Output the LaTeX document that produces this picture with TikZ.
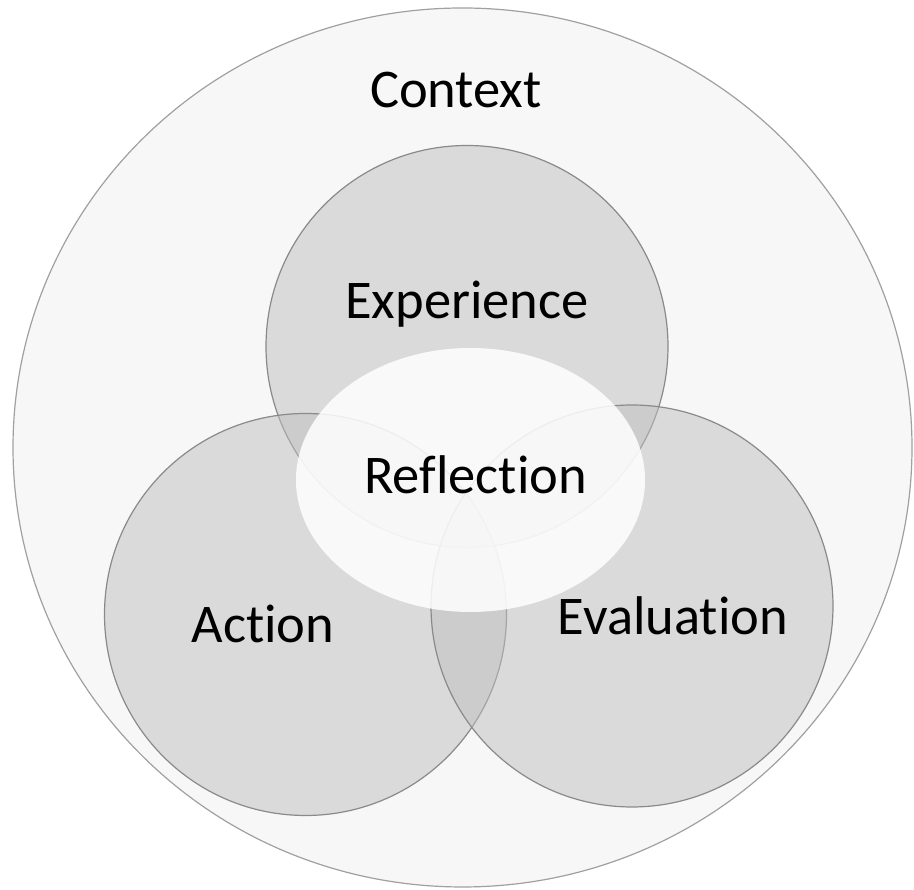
\documentclass[tikz,border=0pt]{standalone}
\usepackage{fontspec}
\setmainfont{Carlito}[Ligatures={NoCommon}]
\usepackage{xcolor}
\usetikzlibrary{positioning}
\definecolor{ctxfill}{HTML}{F7F7F7}
\definecolor{ctxline}{HTML}{A0A0A0}
\definecolor{ringline}{HTML}{8A8A8A}

\begin{document}
\begin{tikzpicture}[
    x=1pt,y=1pt,
    context/.style={draw=ctxline,line width=1.2pt,fill=ctxfill},
    ring/.style={draw=ringline,line width=1.2pt,fill=black!25,fill opacity=0.5},
    glow/.style={fill=white,fill opacity=0.85,draw=none},
    word/.style={anchor=base,inner sep=0pt,font=\fontsize{54.5}{60}\selectfont,text=black}
  ]
    \useasboundingbox (0,0) rectangle (914,890);

    % Outer context
    \draw[context] (462.5,442.5) ellipse [x radius=449.5, y radius=439.5];

    % Three overlapping circles
    \draw[ring] (467,543.5) circle [radius=201];
    \draw[ring] (305.5,275.5) circle [radius=201];
    \draw[ring] (632,284) circle [radius=201];

    % Reflection in the middle
    \fill[glow] (470.5,410) ellipse [x radius=174.5, y radius=132];

    % Labels
    \node[word] (ctx) at (456,782) {Context};
    \node[word] (exp) at (467,571) {Experience};
    \node[word] (refl) at (475.5,396) {Reflection};
    \node[word] (act) at (263,247) {Action};
    \node[word] (eval) at (673,255) {Evaluation};
\end{tikzpicture}
\end{document}
